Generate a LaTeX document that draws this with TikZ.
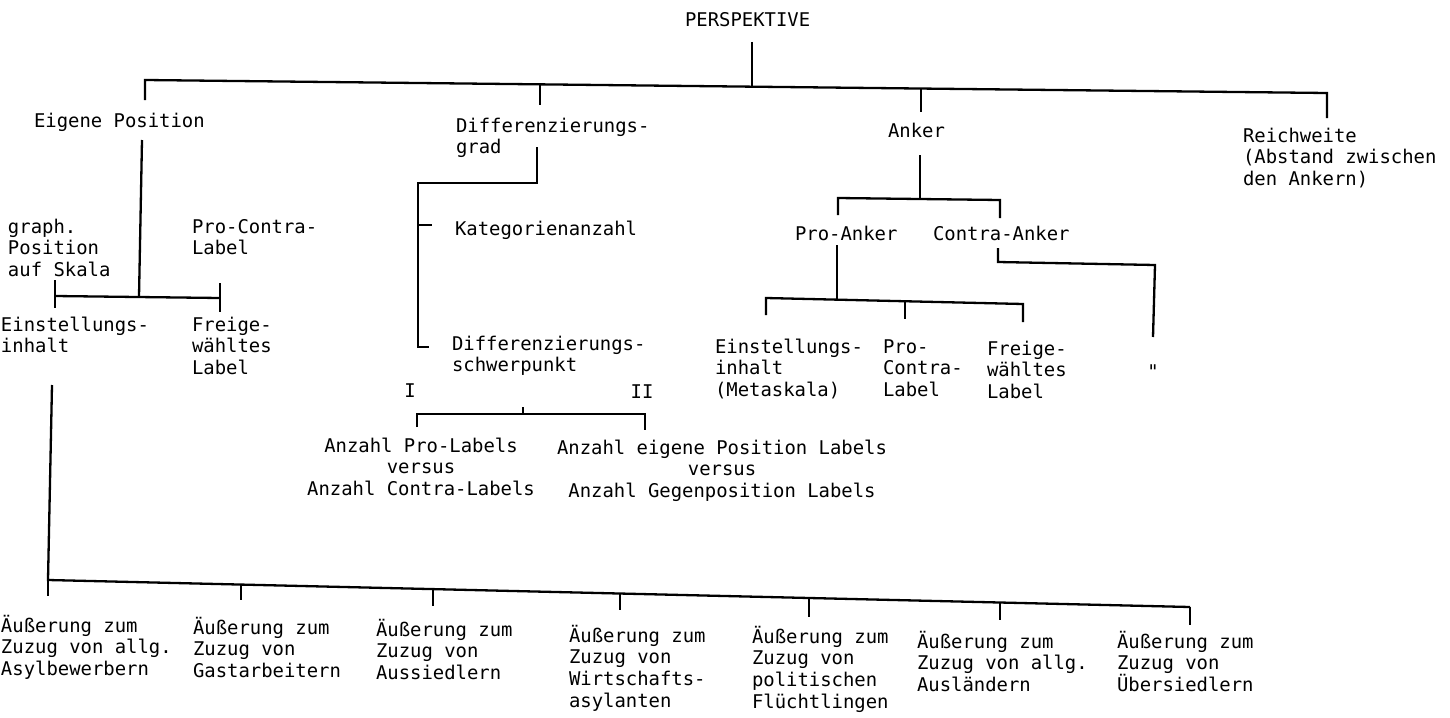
\documentclass[tikz,border=0pt]{standalone}
\usepackage{fontspec}
\setmonofont{DejaVu Sans Mono}
\newcommand\mlL[1]{\vtop{\baselineskip=21.8pt\lineskiplimit=-100pt\halign{##\hfil\cr#1\crcr}}}
\newcommand\mlC[1]{\vtop{\baselineskip=21.8pt\lineskiplimit=-100pt\halign{\hfil##\hfil\cr#1\crcr}}}
\tikzset{
  txt/.style={font=\ttfamily\fontsize{18.9}{21.8}\selectfont, inner sep=0pt, outer sep=0pt, anchor=base west, text=black},
  txtc/.style={txt, anchor=base},
  conn/.style={draw=black, line width=2.3pt, line join=miter, line cap=butt}
}
\begin{document}
\begin{tikzpicture}[x=1pt,y=-1pt]
\useasboundingbox (0,0) rectangle (1450,717);
% ---------- text nodes ----------
\node[txt] (persp) at (685,27) {PERSPEKTIVE};
\node[txt] (eigen) at (34,127) {Eigene Position};
\node[txt] (diffg) at (456,132) {\mlL{Differenzierungs-\cr grad}};
\node[txt] (anker) at (888,137) {Anker};
\node[txt] (reich) at (1243,142) {\mlL{Reichweite\cr(Abstand zwischen\cr den Ankern)}};
\node[txt] (graph) at (8,233) {\mlL{graph.\cr Position\cr auf Skala}};
\node[txt] (procl) at (192,233) {\mlL{Pro-Contra-\cr Label}};
\node[txt] (einst) at (1,331) {\mlL{Einstellungs-\cr inhalt}};
\node[txt] (freig) at (192,331) {\mlL{Freige-\cr wähltes\cr Label}};
\node[txt] (kat) at (455,235) {Kategorienanzahl};
\node[txt] (diffs) at (452,350) {\mlL{Differenzierungs-\cr schwerpunkt}};
\node[txtc] (rI) at (410,397) {I};
\node[txtc] (rII) at (642,398) {II};
\node[txtc] (apro) at (421,452) {\mlC{Anzahl Pro-Labels\cr versus\cr Anzahl Contra-Labels}};
\node[txtc] (aeig) at (722,454) {\mlC{Anzahl eigene Position Labels\cr versus\cr Anzahl Gegenposition Labels}};
\node[txt] (proank) at (795,240) {Pro-Anker};
\node[txt] (conank) at (933,240) {Contra-Anker};
\node[txt] (ein2) at (715,353) {\mlL{Einstellungs-\cr inhalt\cr(Metaskala)}};
\node[txt] (pcl2) at (883,353) {\mlL{Pro-\cr Contra-\cr Label}};
\node[txt] (frei2) at (987,355) {\mlL{Freige-\cr wähltes\cr Label}};
\node[txtc] (ditto) at (1153,378) {"};
\node[txt] (b1) at (1,632) {\mlL{Äußerung zum\cr Zuzug von allg.\cr Asylbewerbern}};
\node[txt] (b2) at (193,634) {\mlL{Äußerung zum\cr Zuzug von\cr Gastarbeitern}};
\node[txt] (b3) at (376,636) {\mlL{Äußerung zum\cr Zuzug von\cr Aussiedlern}};
\node[txt] (b4) at (569,642) {\mlL{Äußerung zum\cr Zuzug von\cr Wirtschafts-\cr asylanten}};
\node[txt] (b5) at (752,643) {\mlL{Äußerung zum\cr Zuzug von\cr politischen\cr Flüchtlingen}};
\node[txt] (b6) at (917,648) {\mlL{Äußerung zum\cr Zuzug von allg.\cr Ausländern}};
\node[txt] (b7) at (1117,648) {\mlL{Äußerung zum\cr Zuzug von\cr Übersiedlern}};
% ---------- top level ----------
\coordinate (r0) at (752,42);   \coordinate (r1) at (752,86.5);
\coordinate (tL) at (145,80);   \coordinate (tR) at (1327,93);
\coordinate (tE) at (145,100);  \coordinate (tRw) at (1327,118);
\coordinate (tD0) at (540,84.3);\coordinate (tD) at (540,105);
\coordinate (tA0) at (921,88.5);\coordinate (tA) at (921,112);
\draw[conn] (r0) -- (r1);
\draw[conn] (tE) -- (tL) -- (tR) -- (tRw);
\draw[conn] (tD0) -- (tD);
\draw[conn] (tA0) -- (tA);
% ---------- Eigene Position ----------
\coordinate (e0) at (142,140);  \coordinate (e1) at (139,297);
\coordinate (eL) at (55,296);   \coordinate (eR) at (220,298);
\coordinate (eLt) at (55,280);  \coordinate (eLb) at (55,308);
\coordinate (eRt) at (220,283); \coordinate (eRb) at (220,312);
\draw[conn] (e0) -- (e1);
\draw[conn] (eL) -- (eR);
\draw[conn] (eLt) -- (eLb);
\draw[conn] (eRt) -- (eRb);
% long line to the bottom
\coordinate (v0) at (52,385);   \coordinate (v1) at (48,580);
\coordinate (bR) at (1190,607);
\draw[conn] (v0) -- (v1) -- (bR);
\coordinate (k1) at (48,596);
\coordinate (k2a) at (241,584.6) ; \coordinate (k2) at (241,600);
\coordinate (k3a) at (433,589.1) ; \coordinate (k3) at (433,606);
\coordinate (k4a) at (620,593.5) ; \coordinate (k4) at (620,610);
\coordinate (k5a) at (809,598)   ; \coordinate (k5) at (809,617);
\coordinate (k6a) at (1000,602.5); \coordinate (k6) at (1000,620);
\coordinate (k7) at (1190,625);
\draw[conn] (v1) -- (k1);
\draw[conn] (k2a) -- (k2);
\draw[conn] (k3a) -- (k3);
\draw[conn] (k4a) -- (k4);
\draw[conn] (k5a) -- (k5);
\draw[conn] (k6a) -- (k6);
\draw[conn] (bR) -- (k7);
% ---------- Differenzierungsgrad ----------
\coordinate (g0) at (537,147);  \coordinate (g1) at (537,183);
\coordinate (g2) at (418,183);  \coordinate (g3) at (418,347);
\coordinate (g4) at (429,347);
\coordinate (gk0) at (418,225); \coordinate (gk1) at (432,225);
\draw[conn] (g0) -- (g1) -- (g2) -- (g3) -- (g4);
\draw[conn] (gk0) -- (gk1);
\coordinate (s0) at (417,427);  \coordinate (s1) at (417,414);
\coordinate (s2) at (645,414);  \coordinate (s3) at (645,430);
\coordinate (sm0) at (523,407); \coordinate (sm1) at (523,414);
\draw[conn] (s0) -- (s1) -- (s2) -- (s3);
\draw[conn] (sm0) -- (sm1);
% ---------- Anker ----------
\coordinate (a0) at (920,155);  \coordinate (a1) at (920,199);
\coordinate (aL0) at (838,215); \coordinate (aL) at (838,198);
\coordinate (aR) at (1000,200); \coordinate (aR0) at (1000,218);
\draw[conn] (a0) -- (a1);
\draw[conn] (aL0) -- (aL) -- (aR) -- (aR0);
\coordinate (p0) at (837,245);  \coordinate (p1) at (837,299);
\coordinate (pL0) at (766,315); \coordinate (pL) at (766,298);
\coordinate (pR) at (1023,304); \coordinate (pR0) at (1023,322);
\coordinate (pm0) at (905,301.5); \coordinate (pm1) at (905,319);
\draw[conn] (p0) -- (p1);
\draw[conn] (pL0) -- (pL) -- (pR) -- (pR0);
\draw[conn] (pm0) -- (pm1);
\coordinate (c0) at (998,248);  \coordinate (c1) at (998,262);
\coordinate (c2) at (1155,265); \coordinate (c3) at (1153,337);
\draw[conn] (c0) -- (c1) -- (c2) -- (c3);
\end{tikzpicture}
\end{document}
